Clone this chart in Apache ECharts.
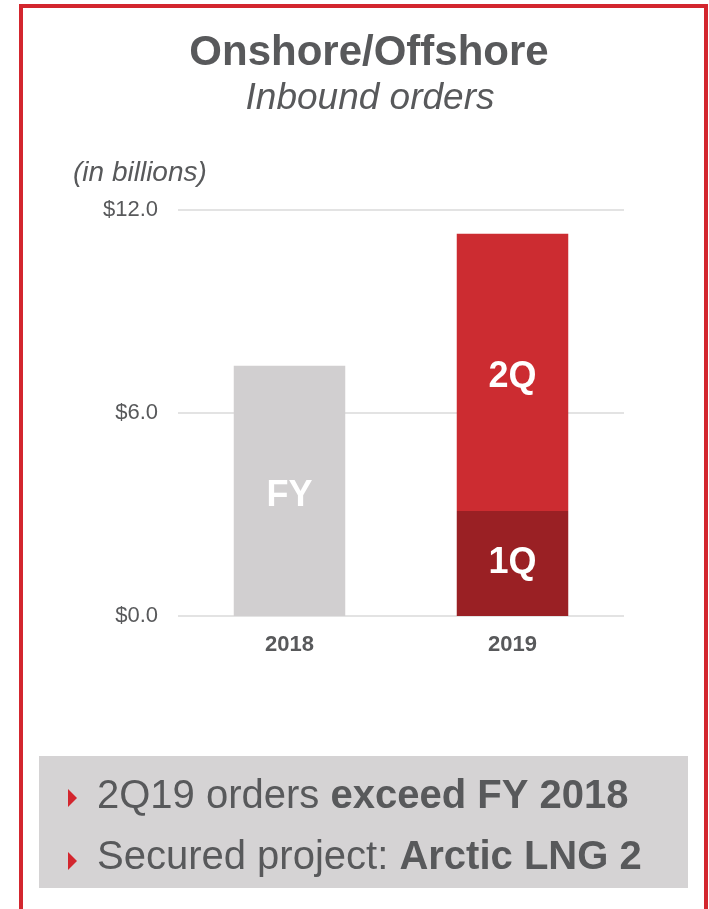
<!DOCTYPE html>
<html lang="en">
<head>
    <meta charset="UTF-8">
    <script src="https://cdn.jsdelivr.net/npm/echarts@6/dist/echarts.min.js"></script>
    <title>Onshore/Offshore</title>
    <style>
        html, body { margin: 0; padding: 0; background: #fff; }
        #chart { width: 709px; height: 909px; }
    </style>
</head>
<body>
    <div id="chart"></div>
    <script>
        // values in $ billions
        let years = ['2018', '2019'];
        let fyOrders = [7.4, '-'];
        let q1Orders = ['-', 3.1];
        let q2Orders = ['-', 8.2];
        let yTicks = [0, 6, 12];

        let textGray = '#58595b';
        let font = '"Liberation Sans", Arial, sans-serif';

        function barLabel(text, dy) {
            return {
                show: true,
                position: 'inside',
                offset: [0, dy],
                formatter: text,
                color: '#fff',
                fontFamily: font,
                fontWeight: 'bold',
                fontSize: 36
            };
        }

        function bullet(y, normal, bold) {
            return {
                type: 'text', x: 97, y: y,
                style: {
                    text: '{n|' + normal + '}{b|' + bold + '}',
                    verticalAlign: 'middle',
                    rich: {
                        n: { fontFamily: font, fontSize: 40, fill: textGray },
                        b: { fontFamily: font, fontSize: 40, fontWeight: 'bold', fill: textGray }
                    }
                }
            };
        }

        function marker(cy) {
            return { type: 'polygon', shape: { points: [[68, cy - 9], [77, cy], [68, cy + 9]] }, style: { fill: '#d3262e' } };
        }

        let option = {
            backgroundColor: '#fff',
            animation: false,
            title: [{
                text: 'Onshore/Offshore',
                left: 364,
                top: 27,
                textAlign: 'center',
                textStyle: { color: textGray, fontFamily: font, fontWeight: 'bold', fontSize: 42 }
            }, {
                text: 'Inbound orders',
                left: 365,
                top: 75,
                textAlign: 'center',
                textStyle: { color: textGray, fontFamily: font, fontStyle: 'italic', fontWeight: 'normal', fontSize: 37 }
            }, {
                text: '(in billions)',
                left: 68,
                top: 154,
                textStyle: { color: textGray, fontFamily: font, fontStyle: 'italic', fontWeight: 'normal', fontSize: 28 }
            }],
            grid: { left: 178, right: 85, top: 210, bottom: 293 },
            xAxis: {
                type: 'category',
                data: years,
                axisLine: { show: false },
                axisTick: { show: false },
                axisLabel: { color: textGray, fontFamily: font, fontWeight: 'bold', fontSize: 22, margin: 18 }
            },
            yAxis: {
                type: 'value',
                min: yTicks[0],
                max: yTicks[yTicks.length - 1],
                interval: yTicks[1] - yTicks[0],
                axisLine: { show: false },
                axisTick: { show: false },
                splitLine: { lineStyle: { color: '#e3e3e3', width: 2 } },
                axisLabel: {
                    color: textGray, fontFamily: font, fontSize: 22, margin: 20,
                    formatter: function (v) { return '$' + v.toFixed(1); }
                }
            },
            series: [{
                name: 'FY',
                type: 'bar',
                stack: 'orders',
                barWidth: '50%',
                data: fyOrders,
                itemStyle: { color: '#d1cfd0' },
                label: barLabel('FY', 5)
            }, {
                name: '1Q',
                type: 'bar',
                stack: 'orders',
                data: q1Orders,
                itemStyle: { color: '#9a2024' },
                label: barLabel('1Q', 0)
            }, {
                name: '2Q',
                type: 'bar',
                stack: 'orders',
                data: q2Orders,
                itemStyle: { color: '#cc2c31' },
                label: barLabel('2Q', 5)
            }],
            graphic: [
                // red frame, open at the bottom
                { type: 'rect', shape: { x: 19, y: 4, width: 4, height: 905 }, style: { fill: '#d3262e' } },
                { type: 'rect', shape: { x: 19, y: 4, width: 689, height: 4 }, style: { fill: '#d3262e' } },
                { type: 'rect', shape: { x: 704, y: 4, width: 4, height: 905 }, style: { fill: '#d3262e' } },
                // grey take-away box
                { type: 'rect', shape: { x: 39, y: 756, width: 649, height: 132 }, style: { fill: '#d5d3d4' } },
                marker(798),
                marker(861),
                bullet(797, '2Q19 orders ', 'exceed FY 2018'),
                bullet(858, 'Secured project: ', 'Arctic LNG 2')
            ]
        };

        let myChart = echarts.init(document.getElementById('chart'));
        myChart.setOption(option);
    </script>
</body>
</html>
